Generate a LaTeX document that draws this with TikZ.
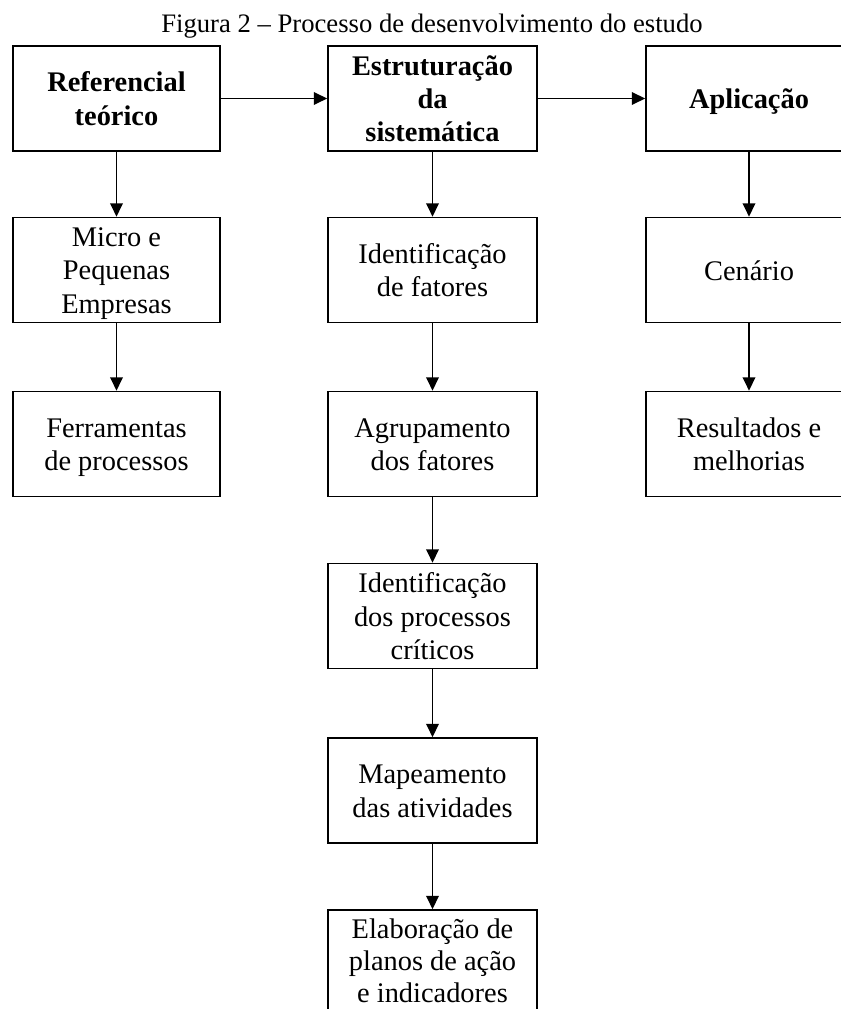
\documentclass[tikz,border=0pt]{standalone}
\usepackage{fontspec}
\setmainfont{Liberation Serif}
\usetikzlibrary{arrows.meta}

% invisible struts that fix the first-line ascent and last-line depth
\newcommand\topstrut{\rule{0pt}{19.5pt}}
\newcommand\botstrut{\rule[-4.5pt]{0pt}{4.5pt}}

\begin{document}
\begin{tikzpicture}[x=0.75pt, y=-0.75pt,
  box/.style={draw, line width=1.3pt, inner sep=0pt, align=center,
    font=\fontsize{21.3}{25}\selectfont},
  colA/.style={box, minimum width=155.25pt, minimum height=78.75pt},
  colB/.style={box, minimum width=156.75pt, minimum height=78.75pt},
  colC/.style={box, minimum width=154.5pt, minimum height=78.75pt},
  bold/.style={font=\fontsize{21.3}{25}\selectfont\bfseries},
  link/.style={line width=1.15pt, -{Triangle[length=10pt, width=9.5pt]}}]

% page frame; the right and bottom boxes run past its edges
\clip (0,0) rectangle (841,1009);

% title
\node[anchor=base, font=\fontsize{20}{22}\selectfont] (title) at (432,33)
  {Figura 2 – Processo de desenvolvimento do estudo};

% top row
\node[colA, bold] (ref) at (116.5,98.5) {\topstrut Referencial\\teórico\botstrut};
\node[colB, bold] (est) at (432.5,98.5) {\topstrut Estruturação\\da\\sistemática\botstrut};
\node[colC, bold] (apl) at (749,98.5) {\topstrut Aplicação\botstrut};

% left column
\node[colA] (mpe) at (116.5,270) {\topstrut Micro e\\Pequenas\\Empresas\botstrut};
\node[colA] (fer) at (116.5,444) {\topstrut Ferramentas\\de processos\botstrut};

% middle column
\node[colB] (idf) at (432.5,270) {\topstrut Identificação\\de fatores\botstrut};
\node[colB] (agr) at (432.5,444) {\topstrut Agrupamento\\dos fatores\botstrut};
\node[colB] (ipc) at (432.5,616) {\topstrut Identificação\\dos processos\\críticos\botstrut};
\node[colB] (map) at (432.5,790.5) {\topstrut Mapeamento\\das atividades\botstrut};
\node[colB, font=\fontsize{21.3}{24}\selectfont, minimum height=75pt] (ela) at (432.5,960)
  {\topstrut Elaboração de\\planos de ação\\e indicadores\botstrut};

% right column
\node[colC] (cen) at (749,270) {\topstrut Cenário\botstrut};
\node[colC] (res) at (749,444) {\topstrut Resultados e\\melhorias\botstrut};

% connectors
\draw[link] (ref) -- (est);
\draw[link] (est) -- (apl);
\draw[link] (ref) -- (mpe);
\draw[link] (mpe) -- (fer);
\draw[link] (est) -- (idf);
\draw[link] (idf) -- (agr);
\draw[link] (agr) -- (ipc);
\draw[link] (ipc) -- (map);
\draw[link] (map) -- (ela);
\draw[link] (apl) -- (cen);
\draw[link] (cen) -- (res);
\end{tikzpicture}
\end{document}
